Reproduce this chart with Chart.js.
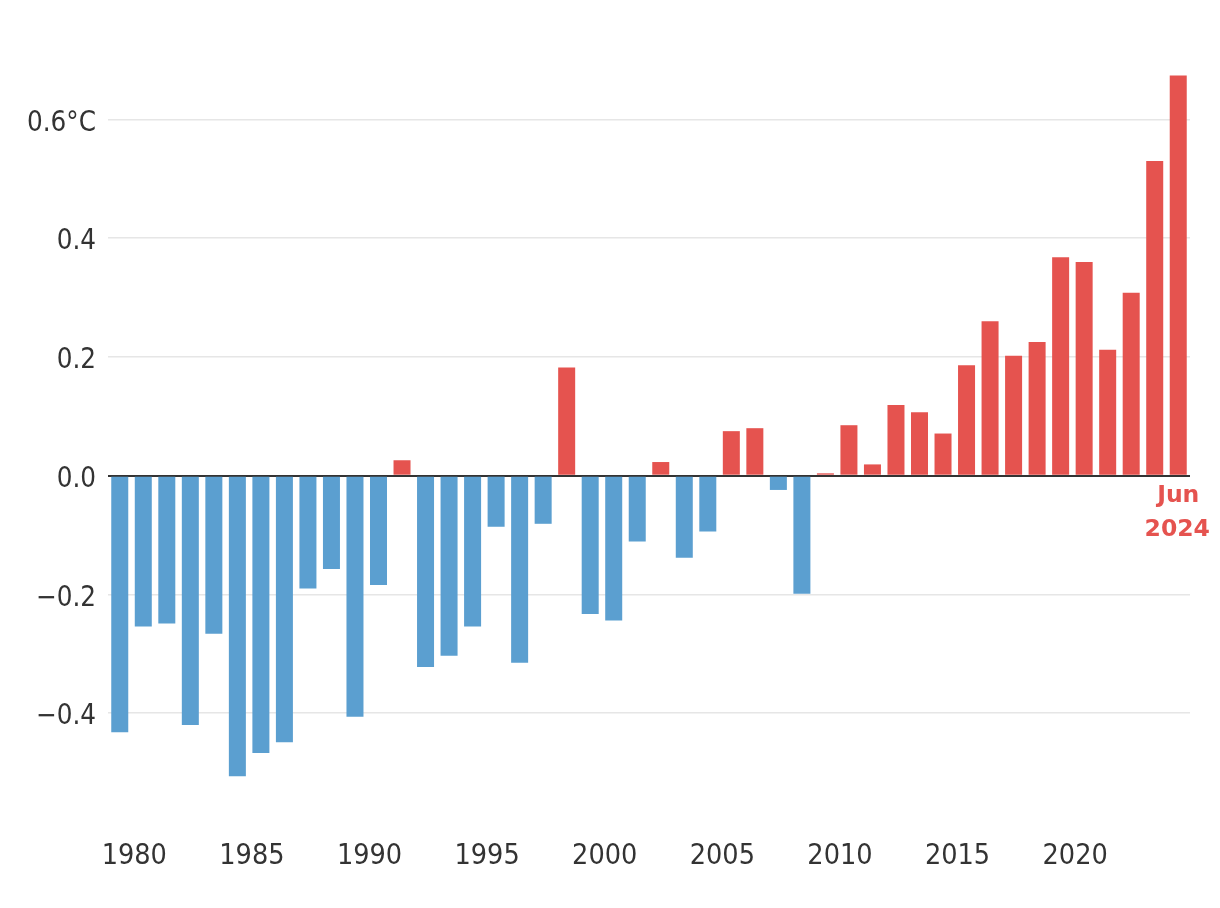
<!DOCTYPE html>
<html>
<head>
<meta charset="utf-8">
<script src="https://cdn.jsdelivr.net/npm/chart.js@4"></script>
<style>
  html, body { margin: 0; padding: 0; background: #fff; }
  #wrap { width: 1220px; height: 908px; }
</style>
</head>
<body>
<div id="wrap"><canvas id="tempChart" width="1220" height="908"></canvas></div>
<script>
const years = [
  1979, 1980, 1981, 1982, 1983, 1984, 1985, 1986, 1987, 1988,
  1989, 1990, 1991, 1992, 1993, 1994, 1995, 1996, 1997, 1998,
  1999, 2000, 2001, 2002, 2003, 2004, 2005, 2006, 2007, 2008,
  2009, 2010, 2011, 2012, 2013, 2014, 2015, 2016, 2017, 2018,
  2019, 2020, 2021, 2022, 2023, 2024
];

const anomalies = [
  -0.432, -0.254, -0.249, -0.420, -0.266, -0.506, -0.467, -0.449, -0.190, -0.157,
  -0.406, -0.184, 0.026, -0.322, -0.303, -0.254, -0.086, -0.315, -0.081, 0.182,
  -0.233, -0.244, -0.111, 0.023, -0.138, -0.094, 0.075, 0.080, -0.024, -0.199,
  0.004, 0.085, 0.019, 0.119, 0.107, 0.071, 0.186, 0.260, 0.202, 0.225,
  0.368, 0.360, 0.212, 0.308, 0.530, 0.674
];

const yTickValues = [-0.4, -0.2, 0, 0.2, 0.4, 0.6];
const yTickLabels = ["\u22120.4", "\u22120.2", "0.0", "0.2", "0.4", "0.6\u00b0C"];
const lastLabel = ["Jun", "2024"];

const warmColor = "#E5534F";
const coolColor = "#5B9FD0";
const textColor = "#333333";
const fontFamily = "'DejaVu Sans Condensed', 'DejaVu Sans', sans-serif";

// small label under the latest bar
const lastBarLabel = {
  id: "lastBarLabel",
  afterDraw(chart) {
    const { ctx, scales } = chart;
    const x = scales.x.getPixelForValue(years.length - 1);
    const y = scales.y.getPixelForValue(0);
    ctx.save();
    ctx.fillStyle = warmColor;
    ctx.font = "bold 23.5px 'DejaVu Sans', sans-serif";
    ctx.textAlign = "center";
    ctx.textBaseline = "middle";
    ctx.fillText(lastLabel[0], x, y + 20);
    ctx.fillText(lastLabel[1], x - 1, y + 54);
    ctx.restore();
  }
};

new Chart(document.getElementById("tempChart"), {
  type: "bar",
  data: {
    labels: years,
    datasets: [{
      data: anomalies,
      backgroundColor: anomalies.map(v => v >= 0 ? warmColor : coolColor),
      barPercentage: 0.723,
      categoryPercentage: 1.0
    }]
  },
  plugins: [lastBarLabel],
  options: {
    responsive: false,
    animation: false,
    layout: {
      padding: { top: 60, right: 30, bottom: 35, left: 0 }
    },
    plugins: {
      legend: { display: false },
      tooltip: { enabled: false }
    },
    scales: {
      x: {
        afterFit(scale) {
          scale.height = 41;
        },
        grid: { display: false, drawTicks: false },
        border: { display: false },
        ticks: {
          autoSkip: false,
          maxRotation: 0,
          padding: 7,
          labelOffset: -9,
          color: textColor,
          font: { family: fontFamily, size: 28.5 },
          callback(value, index) {
            const yr = years[index];
            return yr % 5 === 0 ? String(yr) : "";
          }
        }
      },
      y: {
        min: -0.6,
        max: 0.7,
        afterBuildTicks(scale) {
          scale.ticks = yTickValues.map(v => ({ value: v }));
        },
        afterFit(scale) {
          scale.width = 108;
        },
        border: { display: false },
        grid: {
          drawTicks: false,
          color: ctx => ctx.tick && ctx.tick.value === 0 ? "#333333" : "#E6E6E6",
          lineWidth: ctx => ctx.tick && ctx.tick.value === 0 ? 2 : 1.5
        },
        ticks: {
          padding: 12,
          labelOffset: 4,
          color: textColor,
          font: { family: fontFamily, size: 27.5 },
          callback(value, index) {
            return yTickLabels[index];
          }
        }
      }
    }
  }
});
</script>
</body>
</html>
